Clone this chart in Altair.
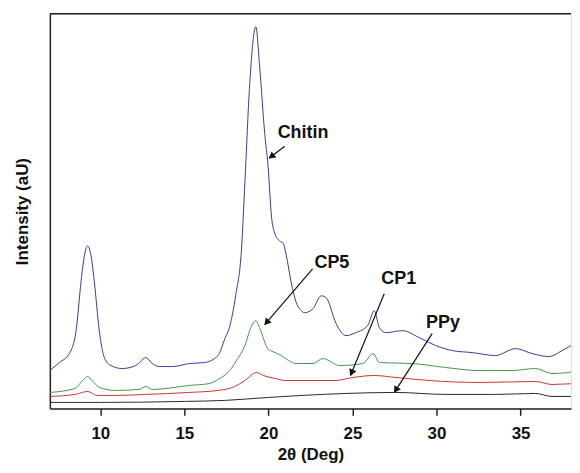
import math
import altair as alt
import pandas as pd

# ---- data ----
chitin_x = [7.0, 7.57, 8.16, 8.56, 8.86, 9.05, 9.25, 9.45, 9.64, 9.94, 10.24, 10.63, 11.3, 12.1, 12.4,
            12.7, 13.1, 13.5, 14.3, 15.3, 16.2, 17.0, 17.41, 17.71, 18.05, 18.40, 18.6, 18.89, 19.25,
            19.48, 19.78, 19.98, 20.18, 20.37, 20.67, 20.87, 21.07, 21.36, 21.66, 21.96, 22.15, 22.65,
            23.14, 23.44, 24.03, 24.62, 25.2, 25.9, 26.3, 26.6, 26.99, 27.98, 28.97, 29.96, 30.94,
            32.13, 33.51, 34.7, 35.69, 36.67, 37.46, 38.45, 38.6]
chitin_y = [38, 46, 55, 78, 128, 153, 163, 153, 128, 78, 51, 43, 40, 43, 47,
            51, 45, 42, 42, 45, 46, 53, 70, 83, 113, 160, 226, 326, 383,
            343, 276, 243, 193, 176, 168, 166, 153, 126, 106, 98, 96, 100,
            113, 111, 85, 73, 76, 83, 98, 81, 76, 78, 71, 63, 58,
            56, 53, 60, 55, 52, 58, 71, 75]

cp5_x = [7.0, 8.5, 9.0, 9.25, 9.5, 9.95, 10.9, 12.3, 12.7, 13.1, 15.3, 16.5, 17.0, 17.7, 18.1, 18.6,
         19.0, 19.25, 19.5, 19.96, 20.4, 20.77, 21.2, 21.66, 22.65, 23.24, 24.23, 25.61, 26.24, 26.6,
         28.57, 30.55, 32.52, 34.5, 35.88, 36.87, 37.86, 38.45, 38.6]
cp5_y = [16, 20, 29, 32, 28, 21, 18, 19, 22, 19, 23, 25, 29, 38, 48, 63,
         83, 88, 80, 60, 56, 53, 48, 45, 45, 50, 43, 45, 55, 46,
         45, 41, 38, 38, 40, 35, 36, 41, 42]

cp1_x = [7.0, 8.5, 9.25, 9.8, 10.9, 12.7, 15.3, 17.0, 18.0, 18.6, 19.3, 19.7, 20.4, 21.0, 22.0, 24.0,
         25.02, 26.3, 27.59, 29.56, 32.52, 35.88, 36.87, 38.45, 38.6]
cp1_y = [12, 14, 17, 13, 13, 14, 16, 18, 22, 28, 36, 33, 30, 28, 28, 28,
         31, 33, 31, 28, 26, 27, 24, 25, 25]

ppy_x = [7.0, 10.0, 15.0, 17.4, 20.0, 22.0, 24.62, 27.59, 30.55, 33.51, 35.88, 36.87, 38.45, 38.6]
ppy_y = [6, 6, 7, 8, 11, 13, 15, 16, 14, 14, 15, 12, 12, 12]

series_names = ["Chitin", "CP5", "CP1", "PPy"]
series_colors = ["#3a3a9c", "#3f9a48", "#c9382e", "#2b2b2b"]

x_ticks = [10, 15, 20, 25, 30, 35]

# annotation labels and arrows (data units)
ann_label = ["Chitin", "CP5", "CP1", "PPy"]
ann_text_x = [20.55, 22.74, 26.72, 29.38]
ann_text_y = [276, 146, 130, 86]
ann_tail_x = [20.97, 22.63, 26.89, 29.74]
ann_tail_y = [263, 140, 115, 75]
ann_tip_x = [20.04, 19.78, 24.88, 27.49]
ann_tip_y = [251, 84, 33, 16]

# ---- layout ----
X_DOMAIN = [7, 38.0]
Y_DOMAIN = [0, 396]
W = 523
H = 396
FONT = "Liberation Sans"

rows = []
for name, xs, ys in zip(series_names, [chitin_x, cp5_x, cp1_x, ppy_x], [chitin_y, cp5_y, cp1_y, ppy_y]):
    for xv, yv in zip(xs, ys):
        rows.append({"series": name, "x": xv, "y": yv})
df = pd.DataFrame(rows)

px_per_x = W / (X_DOMAIN[1] - X_DOMAIN[0])
px_per_y = H / (Y_DOMAIN[1] - Y_DOMAIN[0])
arr_rows = []
for i in range(len(ann_label)):
    dx = (ann_tip_x[i] - ann_tail_x[i]) * px_per_x
    dy = -(ann_tip_y[i] - ann_tail_y[i]) * px_per_y
    ang = math.degrees(math.atan2(dx, -dy)) % 360
    L = math.hypot(dx, dy)
    back = 4.0 / L
    arr_rows.append({
        "label": ann_label[i], "tx": ann_text_x[i], "ty": ann_text_y[i],
        "x1": ann_tail_x[i], "y1": ann_tail_y[i],
        "x2": ann_tip_x[i], "y2": ann_tip_y[i],
        "hx": ann_tip_x[i] - (ann_tip_x[i] - ann_tail_x[i]) * back,
        "hy": ann_tip_y[i] - (ann_tip_y[i] - ann_tail_y[i]) * back,
        "ang": ang,
    })
adf = pd.DataFrame(arr_rows)

xscale = alt.Scale(domain=X_DOMAIN, nice=False, zero=False)
yscale = alt.Scale(domain=Y_DOMAIN, nice=False, zero=False)

x_axis = alt.Axis(values=x_ticks, title="2θ (Deg)", grid=False, labelFont=FONT, labelFontSize=17,
                  labelFontWeight="bold", labelColor="#111", tickSize=7, tickWidth=1.5, tickColor="#222",
                  domainColor="#222", domainWidth=1.5, labelPadding=10, titleFont=FONT, titleFontSize=17,
                  titleFontWeight="bold", titleColor="#111", titlePadding=5, labelFlush=False)
y_axis = alt.Axis(labels=False, ticks=False, grid=False, title="Intensity (aU)", domainColor="#222",
                  domainWidth=1.5, titleFont=FONT, titleFontSize=17, titleFontWeight="bold",
                  titleColor="#111", titlePadding=18)

lines = alt.Chart(df).mark_line(strokeWidth=1, clip=True, interpolate="monotone").encode(
    x=alt.X("x:Q", scale=xscale, axis=x_axis),
    y=alt.Y("y:Q", scale=yscale, axis=y_axis),
    color=alt.Color("series:N", scale=alt.Scale(domain=series_names, range=series_colors), legend=None),
    detail="series:N",
    order=alt.Order("x:Q"),
)

top_border = alt.Chart(pd.DataFrame({"a": [0]})).mark_rule(color="#222", strokeWidth=1.5).encode(
    x=alt.value(0), x2=alt.value(W), y=alt.value(0)
)

arrow_lines = alt.Chart(adf).mark_rule(color="#111", strokeWidth=1.2).encode(
    x=alt.X("x1:Q", scale=xscale), y=alt.Y("y1:Q", scale=yscale),
    x2="x2:Q", y2="y2:Q",
)

arrow_heads = alt.Chart(adf).mark_point(shape="triangle", filled=True, color="#111", size=60, opacity=1).encode(
    x=alt.X("hx:Q", scale=xscale), y=alt.Y("hy:Q", scale=yscale),
    angle=alt.Angle("ang:Q", scale=None),
)

labels = alt.Chart(adf).mark_text(align="left", baseline="middle", font=FONT, fontSize=18,
                                  fontWeight="bold", color="#111").encode(
    x=alt.X("tx:Q", scale=xscale), y=alt.Y("ty:Q", scale=yscale), text="label:N"
)

chart = alt.layer(lines, top_border, arrow_lines, arrow_heads, labels).properties(
    width=W, height=H,
    padding={"left": 6, "top": 4, "right": 0, "bottom": 0},
).configure_view(stroke=None).configure(background="white")

chart.save("out.html", embed_options={"renderer": "svg", "actions": False})
